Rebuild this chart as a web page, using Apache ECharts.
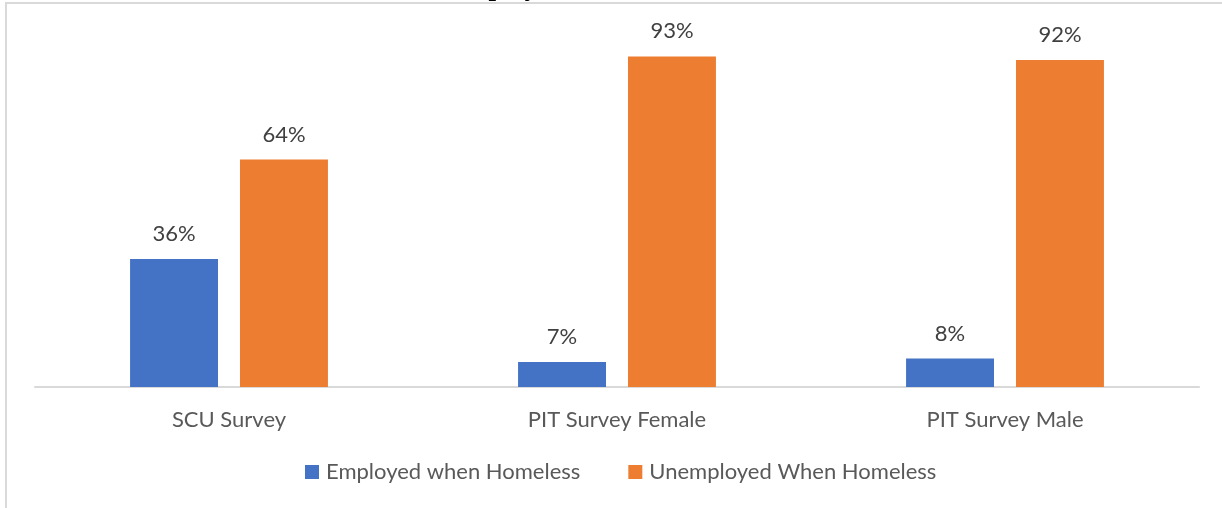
<!DOCTYPE html>
<html>
<head>
<meta charset="utf-8">
<script src="https://cdn.jsdelivr.net/npm/echarts@6/dist/echarts.min.js"></script>
<style>
  html, body { margin: 0; padding: 0; background: #fff; }
  #chart { width: 1222px; height: 508px; }
</style>
</head>
<body>
<div id="chart"></div>
<script>
const CATEGORIES = ["SCU Survey", "PIT Survey Female", "PIT Survey Male"];
const EMPLOYED = [36, 7, 8];
const UNEMPLOYED = [64, 93, 92];
const SERIES_NAMES = ["Employed when Homeless", "Unemployed When Homeless"];

const FONT = "Lato, 'Open Sans', sans-serif";

function renderChart() {
  const chart = echarts.init(document.getElementById("chart"));

  const barLabel = {
    show: true,
    position: "top",
    distance: 14,
    formatter: "{c}%",
    color: "#404040",
    fontSize: 22,
    fontFamily: FONT,
  };

  const option = {
    animation: false,
    title: {
      text: "Employment",
      left: 443,
      top: -30,
      textStyle: {
        fontFamily: "'Liberation Serif', serif",
        fontWeight: "bold",
        fontSize: 27,
        color: "#000",
      },
    },
    graphic: [
      {
        type: "line",
        shape: { x1: 6, y1: 3, x2: 1222, y2: 3 },
        style: { stroke: "#d9d9d9", lineWidth: 2 },
      },
      {
        type: "line",
        shape: { x1: 6, y1: 2, x2: 6, y2: 508 },
        style: { stroke: "#d9d9d9", lineWidth: 2 },
      },
    ],
    legend: {
      top: 456,
      left: 300,
      itemWidth: 14,
      itemHeight: 14,
      itemGap: 48,
      icon: "rect",
      textStyle: { color: "#595959", fontSize: 22, fontFamily: FONT, padding: [0, 0, 0, 2] },
      data: SERIES_NAMES,
    },
    grid: { left: 35, right: 23, top: 31.5, bottom: 121 },
    xAxis: {
      type: "category",
      data: CATEGORIES,
      axisLine: { lineStyle: { color: "#d9d9d9", width: 2 } },
      axisTick: { show: false },
      axisLabel: { color: "#595959", fontSize: 22, fontFamily: FONT, margin: 22 },
    },
    yAxis: {
      type: "value",
      min: 0,
      max: 100,
      show: false,
      splitLine: { show: false },
    },
    series: [
      {
        name: SERIES_NAMES[0],
        type: "bar",
        data: EMPLOYED,
        itemStyle: { color: "#4472c4" },
        barGap: "25%",
        barCategoryGap: "49%",
        label: barLabel,
      },
      {
        name: SERIES_NAMES[1],
        type: "bar",
        data: UNEMPLOYED,
        itemStyle: { color: "#ed7d31" },
        barGap: "25%",
        barCategoryGap: "49%",
        label: barLabel,
      },
    ],
  };

  chart.setOption(option);
}

document.addEventListener("DOMContentLoaded", function () {
  renderChart();
});
</script>
</body>
</html>
